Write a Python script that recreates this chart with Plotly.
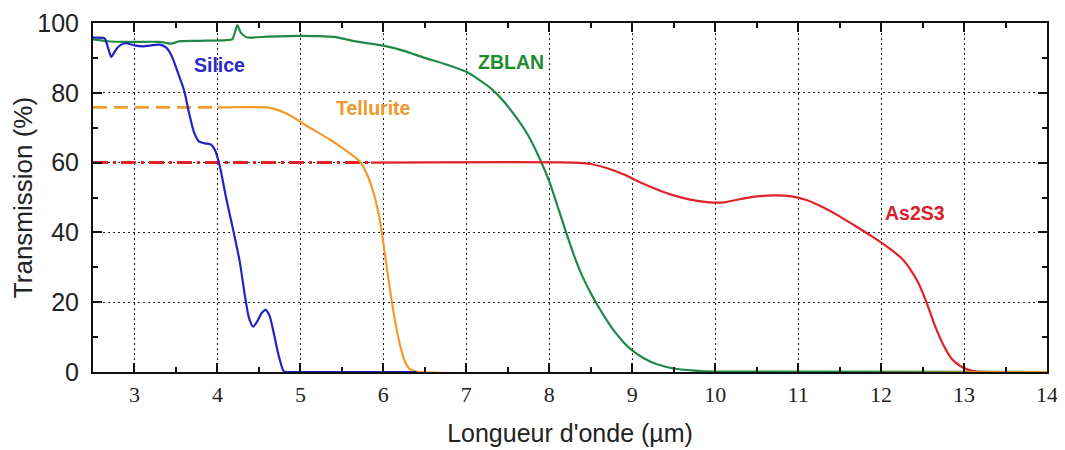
import plotly.graph_objects as go

# ---- Data ----
silice_x = [2.5, 2.64, 2.68, 2.72, 2.78, 2.84, 2.90, 3.0, 3.1, 3.3, 3.38, 3.45, 3.52, 3.6, 3.66,
            3.72, 3.78, 3.85, 3.92, 3.97, 4.03, 4.11, 4.19, 4.27, 4.33, 4.38, 4.43, 4.48, 4.53,
            4.58, 4.63, 4.68, 4.73, 4.77, 4.80, 5.0, 6.4]
silice_y = [95.8, 95.6, 93.0, 90.3, 92.5, 93.8, 94.2, 93.6, 93.3, 93.8, 93.0, 90.5, 86.0, 80.5,
            74.0, 68.5, 66.0, 65.5, 65.2, 63.6, 58.8, 49.3, 40.7, 31.5, 22.0, 15.5, 13.0, 14.5,
            16.8, 17.8, 16.0, 11.0, 5.5, 2.0, 0.2, 0.0, 0.0]

tellurite_dash_x = [2.5, 4.0]
tellurite_dash_y = [75.8, 75.8]
tellurite_x = [4.0, 4.3, 4.6, 4.75, 4.9, 5.05, 5.2, 5.35, 5.5, 5.62, 5.72, 5.8, 5.88, 5.95, 6.0,
               6.05, 6.1, 6.15, 6.2, 6.26, 6.32, 6.4, 14.0]
tellurite_y = [75.8, 75.9, 75.8, 74.9, 73.2, 70.9, 68.8, 66.7, 64.3, 62.2, 60.2, 56.8, 51.5,
               44.5, 37.0, 28.5, 20.5, 13.5, 7.8, 3.0, 0.8, 0.1, 0.0]

zblan_x = [2.5, 2.7, 3.0, 3.3, 3.44, 3.55, 3.8, 4.1, 4.18, 4.24, 4.28, 4.35, 4.6, 5.0, 5.4, 5.7,
           6.0, 6.25, 6.5, 6.75, 7.0, 7.15, 7.3, 7.45, 7.6, 7.75, 7.9, 8.0, 8.1, 8.2, 8.3, 8.4,
           8.5, 8.6, 8.7, 8.8, 8.9, 9.0, 9.15, 9.3, 9.5, 9.75, 10.0, 14.0]
zblan_y = [95.3, 94.7, 94.6, 94.6, 94.1, 94.8, 94.9, 95.1, 95.4, 99.4, 97.3, 95.9, 96.1, 96.3,
           96.0, 94.6, 93.5, 92.0, 90.0, 88.2, 86.0, 83.8, 81.2, 77.6, 73.0, 67.6, 60.3, 54.6,
           47.5, 40.2, 33.3, 27.4, 22.6, 18.4, 14.6, 11.2, 8.4, 6.2, 3.8, 2.2, 1.0, 0.4, 0.1, 0.0]

as2s3_dash_x = [2.5, 5.85]
as2s3_dash_y = [60.0, 60.0]
as2s3_x = [5.85, 8.3, 8.5, 8.7, 8.9, 9.1, 9.3, 9.5, 9.7, 9.9, 10.1, 10.3, 10.5, 10.7, 10.9,
           11.1, 11.3, 11.5, 11.7, 11.9, 12.1, 12.25, 12.35, 12.45, 12.55, 12.65, 12.75, 12.85,
           12.95, 13.05, 13.15, 14.0]
as2s3_y = [60.0, 60.0, 59.6, 58.4, 56.6, 54.3, 52.3, 50.6, 49.4, 48.7, 48.6, 49.5, 50.3, 50.6,
           50.4, 49.3, 47.2, 44.6, 41.7, 38.7, 35.4, 32.5, 29.5, 25.5, 19.8, 13.2, 7.8, 3.8,
           1.8, 0.6, 0.1, 0.0]

labels = ["Silice", "Tellurite", "ZBLAN", "As2S3"]
label_x = [4.02, 5.88, 7.54, 12.41]
label_y = [88.0, 75.7, 88.9, 45.6]

x_ticks = list(range(3, 15))
y_ticks = [0, 20, 40, 60, 80, 100]

# ---- Styles ----
C_BLUE = "#2323c4"
C_ORANGE = "#f39a2c"
C_GREEN = "#1f8a45"
C_RED = "#e02228"
label_colors = ["#2a2ac8", "#f0962a", "#1c8c2c", "#d8202a"]
TICK_C = "#111111"

fig = go.Figure()
SM = 0.6
LW = 2.2

fig.add_trace(go.Scatter(x=zblan_x, y=zblan_y, mode="lines",
                         line=dict(color=C_GREEN, shape="spline", smoothing=SM, width=LW)))
fig.add_trace(go.Scatter(x=as2s3_dash_x, y=as2s3_dash_y, mode="lines",
                         line=dict(color=C_RED, dash="15px,5px,3px,5px", width=3)))
fig.add_trace(go.Scatter(x=as2s3_x, y=as2s3_y, mode="lines",
                         line=dict(color=C_RED, shape="spline", smoothing=SM, width=LW)))
fig.add_trace(go.Scatter(x=tellurite_dash_x, y=tellurite_dash_y, mode="lines",
                         line=dict(color=C_ORANGE, dash="14px,7px", width=2.8)))
fig.add_trace(go.Scatter(x=tellurite_x, y=tellurite_y, mode="lines",
                         line=dict(color=C_ORANGE, shape="spline", smoothing=SM, width=LW)))
fig.add_trace(go.Scatter(x=silice_x, y=silice_y, mode="lines",
                         line=dict(color=C_BLUE, shape="spline", smoothing=SM, width=LW)))

for t, lx, ly, c in zip(labels, label_x, label_y, label_colors):
    fig.add_annotation(x=lx, y=ly, text=f"<b>{t}</b>", showarrow=False,
                       font=dict(family="Liberation Sans, Arial", size=19.5, color=c))

axis_common = dict(
    showline=True, linecolor="#111111", linewidth=2, mirror="allticks",
    ticks="inside", ticklen=9, tickwidth=2, tickcolor=TICK_C,
    showgrid=True, gridcolor="#222222", gridwidth=1.3, griddash="2px,3px",
    zeroline=False, layer="above traces", automargin=False,
)

fig.update_xaxes(
    range=[2.5, 14], tickmode="array", tickvals=x_ticks, ticktext=[str(v) for v in x_ticks],
    minor=dict(ticks="inside", ticklen=5, tickwidth=2, tickcolor=TICK_C, dtick=0.5,
               tick0=2.5, showgrid=False),
    tickfont=dict(family="Liberation Serif, Times New Roman", size=22, color="#222222"),
    ticklabelstandoff=2,
    title=dict(text="Longueur d'onde (µm)", standoff=18,
               font=dict(family="Liberation Sans, Arial", size=25, color="#222222")),
    **axis_common,
)
fig.update_yaxes(
    range=[0, 100], tickmode="array", tickvals=y_ticks, ticktext=[str(v) for v in y_ticks],
    minor=dict(ticks="inside", ticklen=5, tickwidth=2, tickcolor=TICK_C, dtick=10,
               showgrid=False),
    tickfont=dict(family="Liberation Sans, Arial", size=25, color="#222222"),
    ticklabelstandoff=7,
    title=dict(text="Transmission (%)", standoff=8,
               font=dict(family="Liberation Sans, Arial", size=26, color="#222222")),
    **axis_common,
)

# page body has an 8px default margin: compensate so the plot area lands at the reference spot
fig.update_layout(
    template="none",
    width=1065, height=450,
    margin=dict(l=85, r=26, t=15, b=86),
    paper_bgcolor="white", plot_bgcolor="white",
    showlegend=False,
)

fig.write_html("out.html")
